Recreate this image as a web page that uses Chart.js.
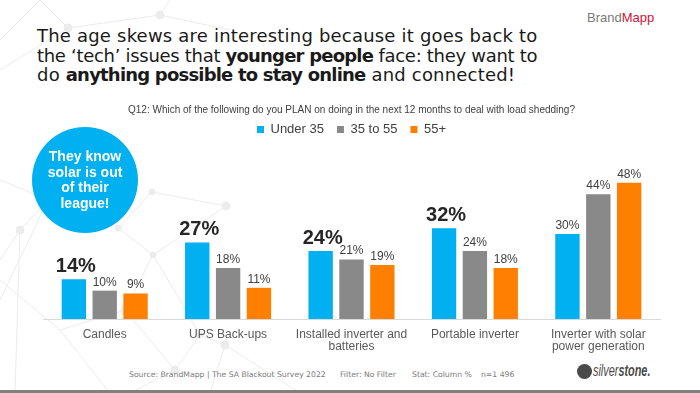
<!DOCTYPE html>
<html>
<head>
<meta charset="utf-8">
<script src="https://cdn.jsdelivr.net/npm/chart.js@4.4.1/dist/chart.umd.min.js"></script>
<style>
  html, body { margin: 0; padding: 0; }
  body { width: 700px; height: 393px; position: relative; overflow: hidden; background: #fff; font-family: "Liberation Sans", Arial, sans-serif; }
  .bg { position: absolute; left: 0; top: 0; }
  .headline { position: absolute; left: 37px; top: 26px; font-family: "DejaVu Sans", sans-serif; font-size: 18px; line-height: 19.5px; color: #1a1a1a; letter-spacing: 0.2px; }
  .headline b { font-weight: bold; letter-spacing: -0.8px; }
  .headline .tight { letter-spacing: -0.3px; }
  .brand { position: absolute; left: 587px; top: 10px; font-size: 13px; color: #7a7a7a; }
  .brand span { color: #d01236; }
  .bubble { position: absolute; left: 32px; top: 127px; width: 106px; height: 106px; border-radius: 50%; background: #00b0f0; color: #fff; font-weight: bold; font-size: 14px; line-height: 15.5px; text-align: center; display: flex; align-items: center; justify-content: center; }
  .foot { position: absolute; top: 370px; font-family: "DejaVu Sans", sans-serif; font-size: 7.7px; color: #7a7a7a; white-space: pre; }
  .logo-icon { position: absolute; left: 577px; top: 364px; width: 15px; height: 15px; border-radius: 50%; background: #4a4a4a; }
  .logo { position: absolute; left: 593px; top: 362px; font-size: 16px; font-style: italic; color: #4a4a4a; white-space: pre; transform: scaleX(0.68); transform-origin: 0 0; }
  .logo b { font-weight: bold; }
  .bottomline { position: absolute; left: 0; bottom: 0; width: 700px; height: 3px; background: #808080; }
  #wrap { position: absolute; left: 0; top: 96px; width: 700px; height: 259px; }
</style>
</head>
<body>
<svg class="bg" width="700" height="393" stroke="#ececec" stroke-width="1" fill="#ececec">
  <line x1="0" y1="40" x2="40" y2="0"/><line x1="40" y1="0" x2="68" y2="28"/><line x1="68" y1="28" x2="160" y2="15"/>
  <line x1="160" y1="15" x2="170" y2="0"/><line x1="68" y1="28" x2="0" y2="70"/><line x1="160" y1="15" x2="230" y2="30"/>
  <line x1="0" y1="180" x2="48" y2="200"/><line x1="48" y1="200" x2="20" y2="230"/><line x1="20" y1="230" x2="0" y2="260"/>
  <line x1="48" y1="200" x2="0" y2="300"/><line x1="20" y1="230" x2="15" y2="393"/><line x1="0" y1="280" x2="60" y2="330"/>
  <line x1="60" y1="330" x2="110" y2="393"/><line x1="60" y1="330" x2="125" y2="310"/><line x1="125" y1="310" x2="153" y2="255"/>
  <line x1="153" y1="255" x2="226" y2="206"/><line x1="153" y1="255" x2="118" y2="228"/><line x1="125" y1="310" x2="175" y2="370"/>
  <line x1="175" y1="370" x2="200" y2="335"/><line x1="200" y1="335" x2="225" y2="345"/><line x1="225" y1="345" x2="210" y2="393"/>
  <line x1="175" y1="370" x2="130" y2="393"/><line x1="152" y1="192" x2="226" y2="206"/><line x1="118" y1="228" x2="152" y2="192"/>
  <line x1="200" y1="335" x2="180" y2="300"/><line x1="225" y1="345" x2="300" y2="393"/><line x1="153" y1="255" x2="180" y2="300"/>
  <circle cx="68" cy="28" r="4"/><circle cx="160" cy="15" r="4"/><circle cx="48" cy="200" r="5"/><circle cx="20" cy="230" r="4"/>
  <circle cx="125" cy="310" r="4"/><circle cx="153" cy="255" r="3"/><circle cx="175" cy="370" r="4"/><circle cx="226" cy="206" r="4"/>
  <circle cx="200" cy="335" r="3"/><circle cx="225" cy="345" r="4"/><circle cx="152" cy="192" r="3"/><circle cx="118" cy="228" r="3"/>
</svg>
<div class="brand">Brand<span>Mapp</span></div>
<div class="headline">The age skews are interesting because it goes back to<br><span class="tight">the ‘tech’ issues that </span><b>younger people</b><span class="tight"> face: they want to</span><br>do <b>anything possible to stay online</b> and connected!</div>
<div id="wrap"><canvas id="chart"></canvas></div>
<div class="bubble">They know<br>solar is out<br>of their<br>league!</div>
<div class="foot" style="left:129px">Source: BrandMapp | The SA Blackout Survey 2022</div>
<div class="foot" style="left:340px">Filter: No Filter</div>
<div class="foot" style="left:412px">Stat: Column %</div>
<div class="foot" style="left:481px">n=1 496</div>
<div class="logo-icon"></div>
<div class="logo">silver<b>stone.</b></div>
<div class="bottomline"></div>
<script>
const categories = [
  'Candles',
  'UPS Back-ups',
  ['Installed inverter and', 'batteries'],
  'Portable inverter',
  ['Inverter with solar', 'power generation']
];
const seriesNames = ['Under 35', '35 to 55', '55+'];
const under35 = [14, 27, 24, 32, 30];
const age35to55 = [10, 18, 21, 24, 44];
const age55plus = [9, 11, 19, 18, 48];

const colours = ['#00b0f0', '#898989', '#ff7f00'];

// value labels above each bar, bold where under 35 leads the category
const barLabels = {
  id: 'barLabels',
  afterDatasetsDraw(chart) {
    const ctx = chart.ctx;
    ctx.save();
    ctx.textAlign = 'center';
    ctx.textBaseline = 'alphabetic';
    chart.data.datasets.forEach((ds, di) => {
      chart.getDatasetMeta(di).data.forEach((bar, i) => {
        const v = ds.data[i];
        const lead = di === 0 && v >= age35to55[i] && v >= age55plus[i];
        if (lead) {
          ctx.font = 'bold 20px "Liberation Sans", Arial, sans-serif';
          ctx.fillStyle = '#262626';
          ctx.fillText(v + '%', bar.x + 2, bar.y - 7);
        } else {
          ctx.font = '12px "Liberation Sans", Arial, sans-serif';
          ctx.fillStyle = '#404040';
          ctx.fillText(v + '%', bar.x, bar.y - 5);
        }
      });
    });
    ctx.restore();
  }
};

new Chart(document.getElementById('chart'), {
  type: 'bar',
  data: {
    labels: categories,
    datasets: [
      { label: seriesNames[0], data: under35, backgroundColor: colours[0] },
      { label: seriesNames[1], data: age35to55, backgroundColor: colours[1] },
      { label: seriesNames[2], data: age55plus, backgroundColor: colours[2] }
    ]
  },
  options: {
    responsive: true,
    maintainAspectRatio: false,
    animation: false,
    datasets: { bar: { categoryPercentage: 0.75, barPercentage: 0.79 } },
    layout: { padding: { left: 43, right: 40, top: 0, bottom: 0 } },
    plugins: {
      title: {
        display: true,
        text: 'Q12: Which of the following do you PLAN on doing in the next 12 months to deal with load shedding?',
        color: '#404040',
        font: { family: '"Liberation Sans", Arial, sans-serif', size: 10, weight: 'normal' },
        padding: { top: 8, bottom: -6 }
      },
      legend: {
        position: 'top',
        labels: {
          boxWidth: 7, boxHeight: 7, padding: 13,
          color: '#404040',
          font: { family: '"Liberation Sans", Arial, sans-serif', size: 13 }
        }
      },
      tooltip: { enabled: false }
    },
    scales: {
      x: {
        grid: { display: false },
        border: { display: true, color: '#d9d9d9' },
        ticks: {
          color: '#595959', padding: 2, maxRotation: 0, autoSkip: false,
          font: { family: '"Liberation Sans", Arial, sans-serif', size: 12, lineHeight: 1.0 }
        }
      },
      y: { display: false, min: 0, max: 61 }
    }
  },
  plugins: [barLabels]
});
</script>
</body>
</html>
